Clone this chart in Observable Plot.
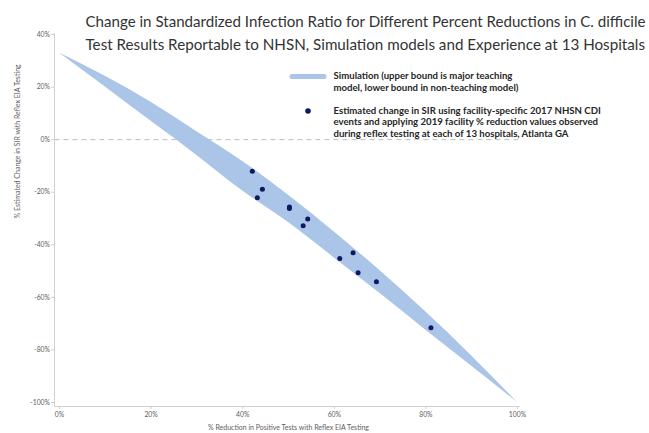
<!DOCTYPE html>
<html>
<head>
<meta charset="utf-8">
<script src="https://cdn.jsdelivr.net/npm/d3@7"></script>
<script src="https://cdn.jsdelivr.net/npm/@observablehq/plot@0.6"></script>
<style>
  html, body { margin: 0; padding: 0; background: #ffffff; }
  #chart { width: 649px; height: 433px; overflow: hidden; }
</style>
</head>
<body>
<div id="chart"></div>
<script>
// ---- Data ----
const reductionGrid = [0, 10, 20, 30, 40, 50, 60, 70, 80, 90, 100];           // % reduction in positive tests
const upperBound    = [33, 24.1, 14.2, 3.0, -8.3, -21.2, -35.1, -49.9, -65.6, -82.3, -100]; // major teaching model
const lowerBound    = [33, 20.0, 7.0, -6.0, -19.5, -31.5, -45.0, -58.5, -72.5, -86.2, -100]; // non-teaching model

const hospitalReduction = [42.1, 44.3, 43.2, 50.2, 50.2, 54.2, 53.2, 61.2, 64.1, 65.2, 69.2, 81.1];
const hospitalChange    = [-12.0, -18.9, -22.1, -25.6, -26.2, -30.2, -32.8, -45.2, -43.0, -50.6, -54.1, -71.6];

const xTicks = [0, 20, 40, 60, 80, 100];
const yTicks = [-100, -80, -60, -40, -20, 0, 20, 40];

const titleLines = [
  "Change in Standardized Infection Ratio for Different Percent Reductions in C. difficile",
  "Test Results Reportable to NHSN, Simulation models and Experience at 13 Hospitals"
];
const legendSimLines = [
  "Simulation (upper bound is major teaching",
  "model, lower bound in non-teaching model)"
];
const legendDotLines = [
  "Estimated change in SIR using facility-specific 2017 NHSN CDI",
  "events and applying 2019 facility % reduction values observed",
  "during reflex testing at each of 13 hospitals, Atlanta GA"
];
const xTitle = "% Reduction in Positive Tests with Reflex EIA Testing";
const yTitle = "% Estimated Change in SIR with Reflex EIA Testing";

// ---- Tables built from the arrays ----
const band = reductionGrid.map((x, i) => ({x, hi: upperBound[i], lo: lowerBound[i]}));
const hospitals = hospitalReduction.map((x, i) => ({x, y: hospitalChange[i]}));

const bandColor = "#abc5e8";
const dotColor = "#0c1862";
const axisColor = "#d0d0d0";
const tickTextColor = "#606060";
const font = "Lato, 'Open Sans', sans-serif";

const legendMarks = [];
legendSimLines.forEach((t, i) => legendMarks.push(
  Plot.text([t], {frameAnchor: "top-left", dx: 274, dy: 41.5 + i * 12, text: d => d,
    textAnchor: "start", lineAnchor: "middle", fontWeight: "bold", fontSize: 9.6, fill: "#262626"})
));
legendDotLines.forEach((t, i) => legendMarks.push(
  Plot.text([t], {frameAnchor: "top-left", dx: 274, dy: 76 + i * 11.5, text: d => d,
    textAnchor: "start", lineAnchor: "middle", fontWeight: "bold", fontSize: 9.6, fill: "#262626"})
));

const chart = Plot.plot({
  width: 649,
  height: 433,
  marginLeft: 59,
  marginRight: 132,
  marginTop: 34,
  marginBottom: 31,
  x: {domain: [0, 100]},
  y: {domain: [-100, 40]},
  style: {fontFamily: font, background: "#ffffff", overflow: "visible"},
  marks: [
    // zero reference line
    Plot.ruleY([0], {x1: -1, x2: 100.5, stroke: "#bdbdbd", strokeDasharray: "5,4", strokeWidth: 1}),
    // simulation band
    Plot.areaY(band, {x: "x", y1: "lo", y2: "hi", fill: bandColor, curve: "natural"}),
    // hospitals
    Plot.dot(hospitals, {x: "x", y: "y", r: 2.5, fill: dotColor, stroke: null}),
    // axis lines (offset like the original)
    Plot.ruleX([0], {y1: 40.3, y2: -101.5, dx: -5, stroke: axisColor}),
    Plot.ruleY([-100], {x1: -1.1, x2: 100.6, dy: 4, stroke: axisColor}),
    // axes
    Plot.axisY({ticks: yTicks, tickFormat: d => d + "%", tickSize: 3, tickPadding: 1.5, dx: -5,
      stroke: axisColor, fill: tickTextColor, fontSize: 6.8, label: null}),
    Plot.axisX({ticks: xTicks, tickFormat: d => d + "%", tickSize: 3, tickPadding: 2.5, dy: 4,
      stroke: axisColor, fill: tickTextColor, fontSize: 6.8, label: null}),
    // axis titles
    Plot.text([xTitle], {frameAnchor: "bottom", dy: 25, text: d => d, fontSize: 7, fill: tickTextColor, lineAnchor: "middle"}),
    Plot.text([yTitle], {frameAnchor: "left", dx: -42, rotate: -90, text: d => d, fontSize: 7, fill: tickTextColor, lineAnchor: "middle"}),
    // title
    Plot.text([titleLines[0]], {frameAnchor: "top-left", dx: 26, dy: -12, text: d => d, textAnchor: "start",
      lineAnchor: "middle", fontSize: 15.1, fill: "#333333"}),
    Plot.text([titleLines[1]], {frameAnchor: "top-left", dx: 26, dy: 10.5, text: d => d, textAnchor: "start",
      lineAnchor: "middle", fontSize: 15.2, fill: "#333333"}),
    ...legendMarks
  ]
});

// legend swatch & dot drawn in the same SVG, positioned in the legend box
const svg = d3.select(chart);
const lg = svg.append("g");
lg.append("line").attr("x1", 292).attr("x2", 324).attr("y1", 76.5).attr("y2", 76.5)
  .attr("stroke", bandColor).attr("stroke-width", 5).attr("stroke-linecap", "round");
lg.append("circle").attr("cx", 308).attr("cy", 111).attr("r", 2.8).attr("fill", dotColor);

document.getElementById("chart").appendChild(chart);
</script>
</body>
</html>
